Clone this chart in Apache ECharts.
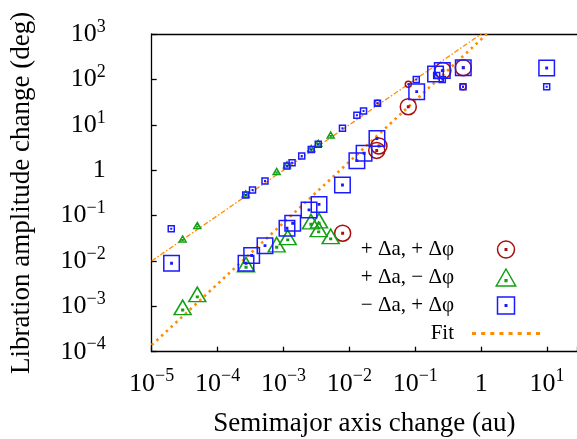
<!DOCTYPE html>
<html lang="en">
<head>
<meta charset="UTF-8">
<title>Libration amplitude change</title>
<script src="https://cdn.jsdelivr.net/npm/echarts@6/dist/echarts.min.js"></script>
<style>html,body{margin:0;padding:0;background:#fff;}</style>
</head>
<body>
<div id="main" style="width:577px;height:439px;"></div>
<script type="text/javascript">
// decades that carry a tick label
var xTickExps = [-5, -4, -3, -2, -1, 0, 1];
var yTickExps = [-4, -3, -2, -1, 0, 1, 2, 3];

// + da, + dphi  (red circles)
var ppBigX = [7.9e-3, 2.6e-2, 2.81e-2, 7.83e-2, 0.263, 0.535];
var ppBigY = [0.0408, 2.72, 3.41, 25.0, 156, 181];
var ppSmallX = [2.67e-2, 7.83e-2, 0.53];
var ppSmallY = [29.8, 78, 69];

// + da, - dphi  (green triangles)
var pmBigX = [2.95e-5, 4.92e-5, 2.7e-4, 7.88e-4, 1.16e-3, 2.61e-3, 3.46e-3, 3.42e-3, 5.2e-3];
var pmBigY = [8.3e-4, 1.61e-3, 7.26e-3, 2.0e-2, 2.9e-2, 6.43e-2, 6.76e-2, 4.35e-2, 3.05e-2];
var pmSmallX = [2.95e-5, 4.92e-5, 2.67e-4, 7.88e-4, 1.13e-3, 2.64e-3, 3.37e-3, 5.2e-3];
var pmSmallY = [0.029, 0.057, 0.284, 0.889, 1.24, 2.86, 3.72, 5.66];

// - da, + dphi  (blue squares)
var mpBigX = [2.0e-5, 2.7e-4, 3.29e-4, 5.24e-4, 1.13e-3, 1.38e-3, 2.44e-3, 3.46e-3, 7.85e-3,
              1.3e-2, 1.67e-2, 2.62e-2, 0.105, 0.203, 0.257, 0.535, 9.86];
var mpBigY = [8.9e-3, 8.9e-3, 1.32e-2, 2.17e-2, 5.25e-2, 6.76e-2, 0.133, 0.176, 0.472,
              1.62, 2.36, 4.99, 53.6, 131, 156, 181, 178];
var mpSmallX = [1.98e-5, 2.67e-4, 3.39e-4, 5.24e-4, 1.13e-3, 1.35e-3, 1.89e-3, 2.64e-3, 3.37e-3,
                7.85e-3, 1.3e-2, 1.64e-2, 2.67e-2, 0.1035, 0.211, 0.257, 0.53, 9.86];
var mpSmallY = [0.0514, 0.284, 0.366, 0.578, 1.24, 1.46, 2.05, 2.86, 3.72,
                8.37, 16.2, 20.1, 29.8, 99.5, 122, 99.6, 69, 69];

// fit lines (end points)
var fitX = [1e-5, 1.22];
var fitY = [1.4e-4, 1000];
var fit2X = [1e-5, 1];
var fit2Y = [0.01, 1000];

var RED = '#a50f0f', GREEN = '#12a012', BLUE = '#1a1aff', ORANGE = '#ff8c00';
var FONT = '"Liberation Serif", "DejaVu Serif", serif';
var SYM_SQ = 'path://M0,0H16V16H0Z M7.3,7.3H8.7V8.7H7.3Z';
var SYM_CI = 'path://M0,8A8,8,0,1,1,16,8A8,8,0,1,1,0,8Z M7.3,7.3H8.7V8.7H7.3Z';
var SYM_TR = 'path://M8,0L16,14H0Z M7.3,8.8H8.7V10.2H7.3Z';
var SYM_FIT = 'path://M0,0h4v3h-4z M9,0h4v3h-4z M18,0h4v3h-4z M27,0h4v3h-4z M36,0h4v3h-4z M45,0h4v3h-4z M54,0h4v3h-4z M63,0h4v3h-4z';

function zip(xs, ys) {
    var out = [];
    for (var i = 0; i < xs.length; i++) out.push([xs[i], ys[i]]);
    return out;
}

function expLabel(exps) {
    return function (v) {
        var l = Math.log10(v);
        var e = Math.round(l);
        if (Math.abs(l - e) > 1e-6 || exps.indexOf(e) < 0) return '';
        if (e === 0) return '1';
        return '10{s|' + (e < 0 ? '\u2212' + (-e) : e) + '}';
    };
}

function marks(name, xs, ys, sym, size, color, offset) {
    return {
        name: name,
        type: 'scatter',
        data: zip(xs, ys),
        symbol: sym,
        symbolSize: size,
        symbolOffset: offset || [0, 0],
        itemStyle: { color: 'rgba(0,0,0,0)', borderColor: color, borderWidth: 1.5, opacity: 1 },
        z: 3
    };
}

var labelRich = { s: { fontSize: 18, fontFamily: FONT, color: '#000', padding: [0, 0, 14, 0] } };
var axisLineStyle = { color: '#000', width: 1.3 };

var myChart = echarts.init(document.getElementById('main'));
var option = {
    animation: false,
    backgroundColor: '#fff',
    grid: { left: 151.7, right: 0, top: 34, bottom: 87.3, outerBoundsMode: 'none' },
    legend: {
        orient: 'vertical',
        align: 'right',
        right: 37,
        top: 239,
        padding: 0,
        itemWidth: 68,
        itemHeight: 17,
        itemGap: 7,
        selectedMode: false,
        textStyle: { fontFamily: FONT, fontSize: 21, color: '#000', padding: [0, 13, 0, 0] },
        data: [
            { name: '+ Δa, + Δφ', icon: SYM_CI, itemStyle: { color: 'rgba(0,0,0,0)', borderColor: RED, borderWidth: 1.5 } },
            { name: '+ Δa, \u2212 Δφ', icon: SYM_TR, itemStyle: { color: 'rgba(0,0,0,0)', borderColor: GREEN, borderWidth: 1.5 } },
            { name: '\u2212 Δa, + Δφ', icon: SYM_SQ, itemStyle: { color: 'rgba(0,0,0,0)', borderColor: BLUE, borderWidth: 1.5 } },
            { name: 'Fit', icon: SYM_FIT, itemStyle: { color: ORANGE, borderWidth: 0 } }
        ]
    },
    xAxis: [{
        type: 'log',
        logBase: 10,
        min: 1e-5,
        max: Math.pow(10, 1.454),
        splitNumber: 10,
        name: 'Semimajor axis change (au)',
        nameLocation: 'middle',
        nameGap: 59,
        nameTextStyle: { fontFamily: FONT, fontSize: 27, color: '#000' },
        axisLine: { lineStyle: axisLineStyle },
        axisTick: { inside: true, length: 5, lineStyle: axisLineStyle },
        axisLabel: {
            formatter: expLabel(xTickExps), fontFamily: FONT, fontSize: 26, color: '#000',
            verticalAlign: 'middle', margin: 32, rich: labelRich, showMaxLabel: true
        },
        splitLine: { show: false }
    }, {
        type: 'log',
        logBase: 10,
        position: 'top',
        min: 1e-5,
        max: Math.pow(10, 1.454),
        axisLine: { lineStyle: axisLineStyle },
        axisTick: { show: false },
        axisLabel: { show: false },
        splitLine: { show: false }
    }],
    yAxis: {
        type: 'log',
        logBase: 10,
        min: 1e-4,
        max: 1e3,
        splitNumber: 10,
        name: 'Libration amplitude change (deg)',
        nameLocation: 'middle',
        nameGap: 116,
        nameTextStyle: { fontFamily: FONT, fontSize: 27, color: '#000' },
        axisLine: { lineStyle: axisLineStyle },
        axisTick: { inside: true, length: 5, lineStyle: axisLineStyle },
        axisLabel: {
            formatter: expLabel(yTickExps), fontFamily: FONT, fontSize: 26, color: '#000',
            margin: 46, rich: labelRich
        },
        splitLine: { show: false }
    },
    series: [
        {
            name: 'Fit', type: 'line', data: zip(fitX, fitY), symbol: 'none', silent: true, z: 1,
            lineStyle: { color: ORANGE, width: 2.6, type: [2.5, 4] }
        },
        {
            name: 'fit2', type: 'line', data: zip(fit2X, fit2Y), symbol: 'none', silent: true, z: 1,
            lineStyle: { color: ORANGE, width: 1.3, type: [5, 2, 1.5, 2] }
        },
        marks('+ Δa, + Δφ', ppBigX, ppBigY, SYM_CI, 16, RED),
        marks('+ Δa, + Δφ', ppSmallX, ppSmallY, SYM_CI, 6, RED),
        marks('+ Δa, \u2212 Δφ', pmBigX, pmBigY, SYM_TR, [17, 14.5], GREEN, [0, -2.6]),
        marks('+ Δa, \u2212 Δφ', pmSmallX, pmSmallY, SYM_TR, [7, 6], GREEN, [0, -1]),
        marks('\u2212 Δa, + Δφ', mpBigX, mpBigY, SYM_SQ, 15.5, BLUE),
        marks('\u2212 Δa, + Δφ', mpSmallX, mpSmallY, SYM_SQ, 6, BLUE)
    ]
};
myChart.setOption(option);
</script>
</body>
</html>
